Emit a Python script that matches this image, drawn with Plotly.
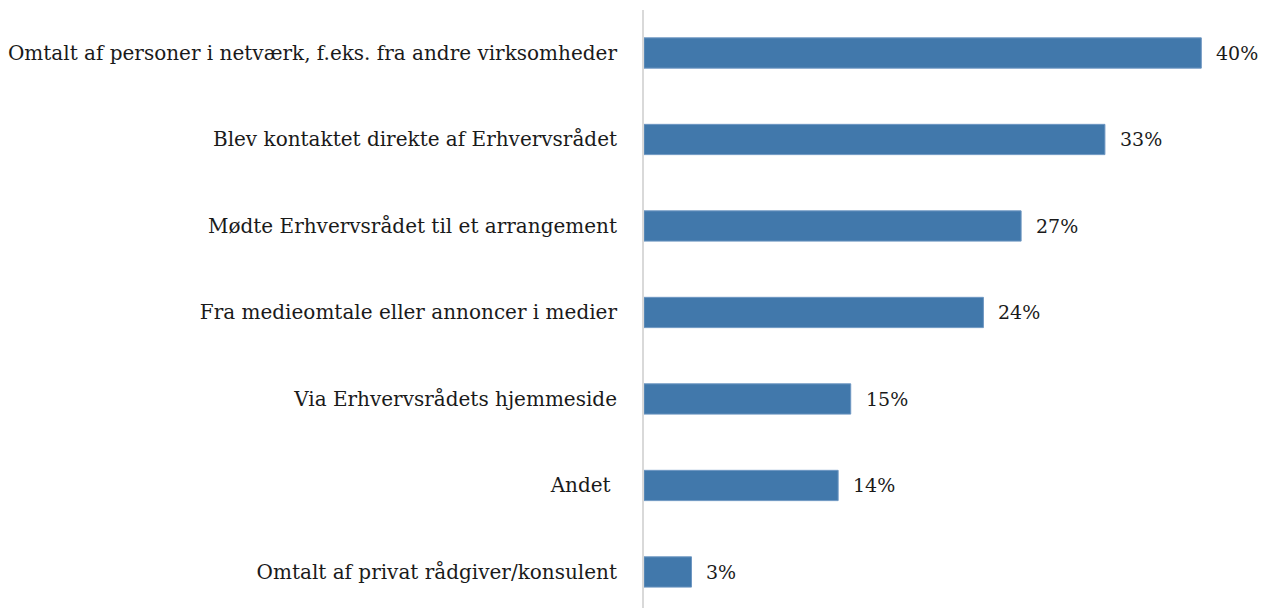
import plotly.graph_objects as go

categories = [
    "Omtalt af personer i netværk, f.eks. fra andre virksomheder",
    "Blev kontaktet direkte af Erhvervsrådet",
    "Mødte Erhvervsrådet til et arrangement",
    "Fra medieomtale eller annoncer i medier",
    "Via Erhvervsrådets hjemmeside",
    "Andet ",
    "Omtalt af privat rådgiver/konsulent",
]
values = [39.9, 33.0, 27.0, 24.3, 14.8, 13.9, 3.4]
labels = ["40%", "33%", "27%", "24%", "15%", "14%", "3%"]

FONT = "DejaVu Serif"
FS = 20

fig = go.Figure()
fig.add_trace(go.Bar(
    x=values, y=categories, orientation="h",
    marker=dict(color="#4178AB", line=dict(color="#6E97C2", width=1)),
    width=0.35,
    hoverinfo="skip",
))
for v, c, t in zip(values, categories, labels):
    fig.add_annotation(x=v, y=c, text=t, showarrow=False, xanchor="left",
                       xshift=13, font=dict(family=FONT, size=19, color="#1a1a1a"))

fig.update_layout(
    width=1268, height=608,
    margin=dict(l=630, r=0, t=2, b=0),
    plot_bgcolor="white", paper_bgcolor="white",
    showlegend=False,
    xaxis=dict(range=[0, 638/14.1], showgrid=False, zeroline=False,
               showticklabels=False, showline=False, fixedrange=True),
    yaxis=dict(categoryorder="array", categoryarray=categories,
               range=[6.509, -0.497], showgrid=False, zeroline=False,
               showline=True, linecolor="#D9D9D9", linewidth=2,
               ticks="", ticklabelstandoff=21,
               tickfont=dict(family=FONT, size=FS, color="#1a1a1a")),
)
fig.write_html("out.html")
